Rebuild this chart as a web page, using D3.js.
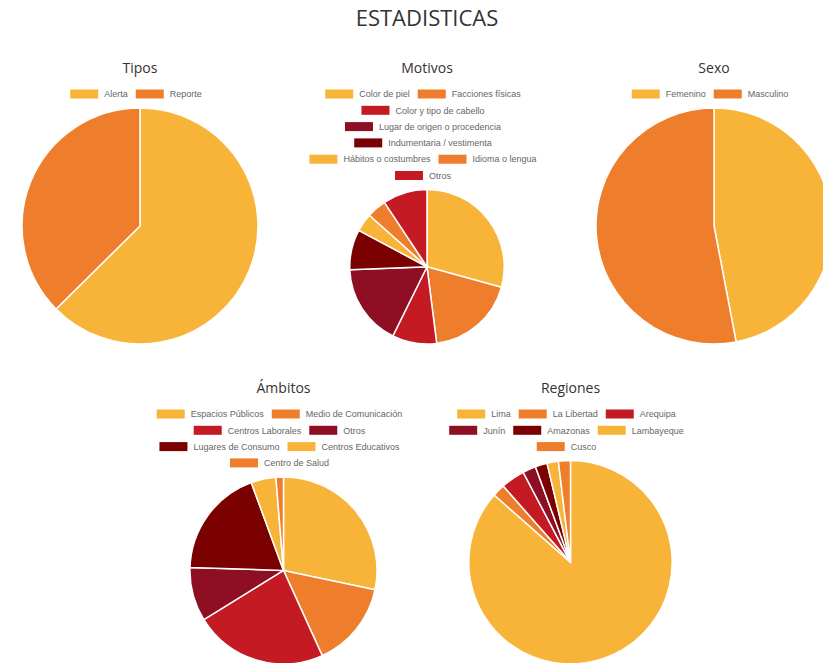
<!DOCTYPE html>
<html>
<head>
	<meta charset="utf-8">
	<title>Estadisticas</title>
	<script src="https://d3js.org/d3.v7.min.js"></script>
	<style>
		body { margin: 0; background: #fff; overflow: hidden; }
	</style>
</head>
<body>
	<div id="chart"></div>

	<script>
		// Data (shares, %)
		const tiposLabels = ["Alerta", "Reporte"];
		const tiposValues = [62.6, 37.4];

		const motivosLabels = ["Color de piel", "Facciones físicas", "Color y tipo de cabello",
			"Lugar de origen o procedencia", "Indumentaria / vestimenta", "Hábitos o costumbres",
			"Idioma o lengua", "Otros"];
		const motivosValues = [29.3, 18.7, 9.3, 17.1, 8.4, 3.8, 4.1, 9.3];

		const sexoLabels = ["Femenino", "Masculino"];
		const sexoValues = [47, 53];

		const ambitosLabels = ["Espacios Públicos", "Medio de Comunicación", "Centros Laborales",
			"Otros", "Lugares de Consumo", "Centros Educativos", "Centro de Salud"];
		const ambitosValues = [28.3, 14.9, 23.0, 9.3, 18.9, 4.3, 1.3];

		const regionesLabels = ["Lima", "La Libertad", "Arequipa", "Junín", "Amazonas", "Lambayeque", "Cusco"];
		const regionesValues = [86.5, 2.0, 3.8, 2.1, 1.9, 1.8, 1.9];

		const palette = ["#F8B439", "#EE7E2B", "#C41A24", "#8E0E24", "#7B0000"];

		const width = 823, height = 663;
		const cellW = 287, pageCenter = 427;

		const svg = d3.select("#chart")
			.append("svg")
			.attr("width", width)
			.attr("height", height);

		svg.append("text")
			.attr("x", pageCenter)
			.attr("y", 26)
			.attr("text-anchor", "middle")
			.style("font-family", "'Open Sans', sans-serif")
			.style("font-size", "22px")
			.attr("fill", "#333")
			.text("ESTADISTICAS");

		const color = d3.scaleOrdinal().range(palette);

		function drawPie(cx, top, title, labels, values) {
			const g = svg.append("g");
			const titleY = top;
			const bottom = top + 271;

			g.append("text")
				.attr("x", cx)
				.attr("y", titleY)
				.attr("text-anchor", "middle")
				.style("font-family", "'Open Sans', sans-serif")
				.style("font-size", "14px")
				.attr("fill", "#333")
				.text(title);

			// legend, wrapped like chart.js does
			const boxW = 28, boxH = 9, gap = 6, pad = 8, maxW = 262, rowH = 16.3;
			const items = labels.map((l, i) => {
				const it = g.append("g");
				it.append("rect")
					.attr("width", boxW)
					.attr("height", boxH)
					.attr("y", -boxH / 2)
					.attr("fill", color(i));
				const t = it.append("text")
					.attr("x", boxW + gap)
					.attr("y", 3.2)
					.style("font-family", "'Liberation Sans', Arial, sans-serif")
					.style("font-size", "9px")
					.attr("fill", "#666")
					.text(l);
				return { node: it, w: boxW + gap + t.node().getComputedTextLength() };
			});

			const rows = [[]];
			let lineW = 0;
			items.forEach(it => {
				if (rows[rows.length - 1].length && lineW + it.w > maxW) {
					rows.push([]);
					lineW = 0;
				}
				rows[rows.length - 1].push(it);
				lineW += it.w + pad;
			});

			const legendY = titleY + 21;
			rows.forEach((row, r) => {
				// line width counts the trailing padding too
				const rw = d3.sum(row, d => d.w + pad);
				let x = cx - rw / 2;
				row.forEach(it => {
					it.node.attr("transform", `translate(${x},${legendY + r * rowH})`);
					x += it.w + pad;
				});
			});

			const pieTop = legendY + (rows.length - 1) * rowH + 14;
			const radius = (bottom - pieTop) / 2;
			const cy = pieTop + radius;

			const pie = d3.pie().sort(null).value(d => d);
			const arc = d3.arc().innerRadius(0).outerRadius(radius);

			g.append("g")
				.attr("transform", `translate(${cx},${cy})`)
				.selectAll("path")
				.data(pie(values))
				.enter()
				.append("path")
				.attr("d", arc)
				.attr("fill", (d, i) => color(i))
				.attr("stroke", "#fff")
				.attr("stroke-width", 1.5);
		}

		color.domain(d3.range(20));

		drawPie(pageCenter - cellW, 73, "Tipos", tiposLabels, tiposValues);
		drawPie(pageCenter, 73, "Motivos", motivosLabels, motivosValues);
		drawPie(pageCenter + cellW, 73, "Sexo", sexoLabels, sexoValues);
		drawPie(pageCenter - cellW / 2, 393, "Ámbitos", ambitosLabels, ambitosValues);
		drawPie(pageCenter + cellW / 2, 393, "Regiones", regionesLabels, regionesValues);
	</script>
</body>
</html>
